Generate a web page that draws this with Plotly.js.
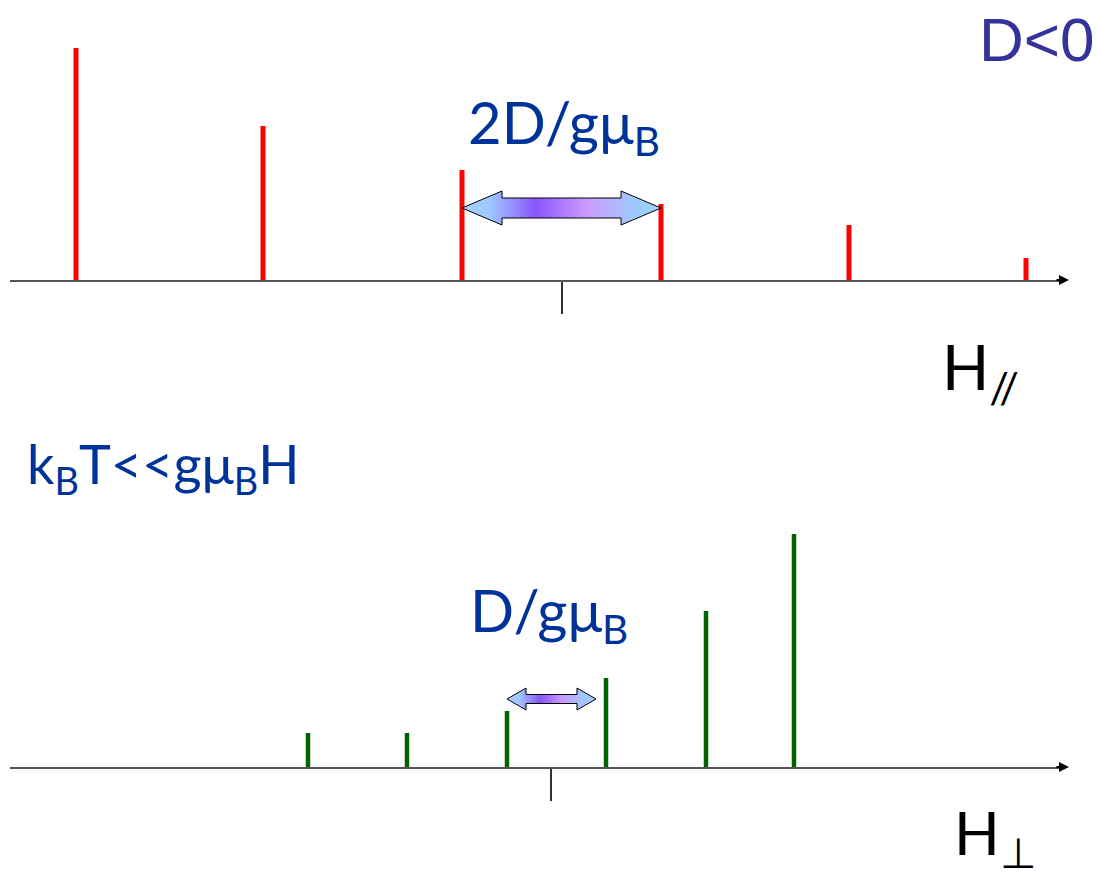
<!DOCTYPE html>
<html>
<head>
<meta charset="utf-8">
<script src="https://cdn.plot.ly/plotly-3.0.1.min.js"></script>
<style>
  html, body { margin: 0; padding: 0; background: #ffffff; }
  #chart { width: 1101px; height: 873px; }
</style>
</head>
<body>
<div id="chart"></div>
<script>
// Parallel field orientation (D < 0): resonance positions and intensities
const parallelField = [-4.86, -2.99, -1.00, 0.99, 2.87, 4.64];
const parallelIntensity = [232, 154, 110, 76, 55, 22];

// Perpendicular field orientation: resonance positions and intensities
const perpField = [-2.43, -1.44, -0.44, 0.55, 1.55, 2.43];
const perpIntensity = [34, 34, 56, 89, 156, 233];

// Text labels
const signLabel = 'D&lt;0';
const parallelSplitLabel = '2D/gμ<sub>B</sub>';
const perpSplitLabel = 'D/gμ<sub>B</sub>';
const tempLabel = 'k<sub>B</sub>T&lt;&lt;gμ<sub>B</sub>H';
const parallelAxisLabel = 'H<sub>//</sub>';
const perpAxisLabel = 'H<sub>⊥</sub>';

const W = 1101, H = 873;
const ML = 10, MR = 41;
const plotW = W - ML - MR;
const px = p => (p - ML) / plotW;      // pixel -> paper x
const py = p => 1 - p / H;             // pixel -> paper y

const blue = '#003399';
const gradient = [
  [0, '#a6cfff'], [0.14, '#9fc8ff'], [0.37, '#8a55ff'],
  [0.62, '#cc99ff'], [0.88, '#9ccaff'], [1, '#a6cfff']
];

// Double-headed block arrow between two resonances
function doubleArrow(x0, x1, yc, shaft, head, headLen, xa, ya) {
  const xs = [x0, x0 + headLen, x0 + headLen, x1 - headLen, x1 - headLen, x1,
              x1 - headLen, x1 - headLen, x0 + headLen, x0 + headLen, x0];
  const ys = [yc, yc + head, yc + shaft, yc + shaft, yc + head, yc,
              yc - head, yc - shaft, yc - shaft, yc - head, yc];
  return {
    type: 'scatter', mode: 'lines', x: xs, y: ys, xaxis: xa, yaxis: ya,
    fill: 'toself',
    fillgradient: { type: 'horizontal', colorscale: gradient },
    line: { color: '#000000', width: 1 },
    hoverinfo: 'skip', showlegend: false
  };
}

const traces = [
  {
    type: 'bar', x: parallelField, y: parallelIntensity, width: 0.05,
    marker: { color: '#ff0000', line: { width: 0 } },
    xaxis: 'x', yaxis: 'y', hoverinfo: 'skip'
  },
  {
    type: 'bar', x: perpField, y: perpIntensity, width: 0.045,
    marker: { color: '#006400', line: { width: 0 } },
    xaxis: 'x2', yaxis: 'y2', hoverinfo: 'skip'
  },
  doubleArrow(parallelField[2], parallelField[3], 72, 10, 17, 0.40, 'x', 'y'),
  doubleArrow(perpField[2], perpField[3] - 0.10, 68, 4.5, 11, 0.19, 'x2', 'y2')
];

const axisCommon = {
  showline: true, linecolor: '#555555', linewidth: 2,
  showgrid: false, zeroline: false,
  ticks: 'outside', tickvals: [0], ticklen: 32, tickwidth: 1.5, tickcolor: '#333333',
  showticklabels: false, fixedrange: true
};

function textNote(text, xp, yp, size, color, family, xanchor) {
  return {
    xref: 'paper', yref: 'paper', x: px(xp), y: py(yp),
    xanchor: xanchor || 'left', yanchor: 'middle',
    text: text, showarrow: false,
    font: { family: family, size: size, color: color }
  };
}

function axisArrow(yref) {
  return {
    xref: 'paper', yref: yref, x: px(1069), y: 0, ax: -14, ay: 0,
    text: '', showarrow: true, arrowhead: 2, arrowsize: 1, arrowwidth: 2,
    arrowcolor: '#000000'
  };
}

const sans = 'Lato, "Open Sans", sans-serif';

const layout = {
  width: W, height: H,
  margin: { l: ML, r: MR, t: 0, b: 0 },
  paper_bgcolor: '#ffffff', plot_bgcolor: 'rgba(0,0,0,0)',
  showlegend: false, barmode: 'overlay',
  xaxis: Object.assign({ domain: [0, 1], range: [-5.52, 4.98], anchor: 'y' }, axisCommon),
  yaxis: { domain: [py(280), py(30)], range: [0, 250], visible: false, fixedrange: true, anchor: 'x' },
  xaxis2: Object.assign({ domain: [0, 1], range: [-5.41, 5.09], anchor: 'y2' }, axisCommon),
  yaxis2: { domain: [py(767), py(517)], range: [0, 250], visible: false, fixedrange: true, anchor: 'x2' },
  annotations: [
    axisArrow('y'),
    axisArrow('y2'),
    textNote(signLabel, 1096, 40, 62, '#333399', '"Liberation Sans", Arial, sans-serif', 'right'),
    textNote(parallelSplitLabel, 466, 126, 58, blue, sans),
    textNote(perpSplitLabel, 468, 614, 58, blue, sans),
    textNote(tempLabel, 25, 467, 54, blue, sans),
    textNote(parallelAxisLabel, 940, 370, 62, '#000000', sans),
    textNote(perpAxisLabel, 952, 836, 60, '#000000', sans)
  ]
};

Plotly.newPlot('chart', traces, layout, { staticPlot: true, displayModeBar: false });
</script>
</body>
</html>
